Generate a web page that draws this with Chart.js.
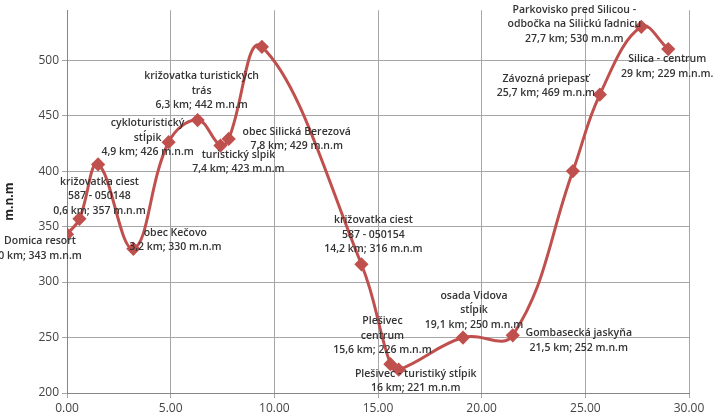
<!DOCTYPE html>
<html>
<head>
<meta charset="utf-8">
<script src="https://cdn.jsdelivr.net/npm/chart.js@4/dist/chart.umd.min.js"></script>
<style>
  html, body { margin: 0; padding: 0; background: #fff; }
  #wrap { width: 720px; height: 420px; }
</style>
</head>
<body>
<div id="wrap"><canvas id="profile"></canvas></div>
<script>
// Elevation profile - distance (km) vs altitude (m.n.m)
const distKm = [0, 0.6, 1.5, 3.2, 4.9, 6.3, 7.4, 7.8, 9.4, 14.2, 15.6, 16, 19.1, 21.5, 24.4, 25.7, 27.7, 29];
const altitude = [343, 357, 406, 330, 426, 446, 423, 429, 512, 316, 226, 221, 250, 252, 400, 469, 530, 510];
const pointLabels = [
  ['Domica resort', '0 km; 343 m.n.m'],
  ['križovatka ciest', '587 - 050148', '0,6 km; 357 m.n.m'],
  [],
  ['obec Kečovo', '3,2 km; 330 m.n.m'],
  ['cykloturistický', 'stĺpik', '4,9 km; 426 m.n.m'],
  ['križovatka turistických', 'trás', '6,3 km; 442 m.n.m'],
  ['turistický sĺpik', '7,4 km; 423 m.n.m'],
  ['obec Silická Berezová', '7,8 km; 429 m.n.m'],
  [],
  ['križovatka ciest', '587 - 050154', '14,2 km; 316 m.n.m'],
  ['Plešivec', 'centrum', '15,6 km; 226 m.n.m'],
  ['Plešivec - turistiký stĺpik', '16 km; 221 m.n.m'],
  ['osada Vidova', 'stĺpik', '19,1 km; 250 m.n.m'],
  ['Gombasecká jaskyňa', '21,5 km; 252 m.n.m'],
  [],
  ['Závozná priepasť', '25,7 km; 469 m.n.m'],
  ['Parkovisko pred Silicou -', 'odbočka na Silickú ľadnicu', '27,7 km; 530 m.n.m'],
  ['Silica - centrum', '29 km; 229 m.n.m.']
];
// pixel offset of first label line centre from its point
const labelOffsets = [
  [-27, 7], [20, -37], [0, 0], [42, -16], [-21, -19], [4, -44], [18, 9], [68, -7], [0, 0],
  [12, -44], [-8, -43], [17, 4], [11, -42], [66, -2], [0, 0], [-54, -16], [-67, -17], [-1, 10]
];

const labelPlugin = {
  id: 'pointLabels',
  afterDatasetsDraw(chart) {
    const ctx = chart.ctx;
    const meta = chart.getDatasetMeta(0);
    ctx.save();
    ctx.font = '600 10.5px "Open Sans", sans-serif';
    ctx.fillStyle = '#333';
    ctx.textAlign = 'center';
    ctx.textBaseline = 'middle';
    meta.data.forEach((pt, i) => {
      const lines = pointLabels[i];
      const [dx, dy] = labelOffsets[i];
      lines.forEach((txt, j) => ctx.fillText(txt, pt.x + dx, pt.y + dy + j * 14.5));
    });
    ctx.restore();
  }
};

new Chart(document.getElementById('profile'), {
  type: 'scatter',
  data: {
    datasets: [{
      data: distKm.map((d, i) => ({ x: d, y: altitude[i] })),
      showLine: true,
      borderColor: '#c0504d',
      borderWidth: 3,
      tension: 0.4,
      pointStyle: 'rectRot',
      pointRadius: 5,
      pointBackgroundColor: '#c0504d',
      pointBorderColor: '#c0504d'
    }]
  },
  plugins: [labelPlugin],
  options: {
    responsive: true,
    maintainAspectRatio: false,
    animation: false,
    layout: { padding: { top: 0, right: 31, left: 0, bottom: 0 } },
    plugins: { legend: { display: false }, tooltip: { enabled: false } },
    scales: {
      x: {
        type: 'linear',
        min: 0, max: 30,
        grid: { color: '#a6a6a6', tickLength: 5 },
        border: { color: '#868686' },
        ticks: {
          stepSize: 5,
          color: '#444',
          font: { family: '"Open Sans", sans-serif', size: 12 },
          callback: v => v.toFixed(2)
        },
        afterFit: s => { s.height = 27; }
      },
      y: {
        min: 200, max: 545,
        grid: { color: '#a6a6a6', tickLength: 5 },
        border: { color: '#868686' },
        afterBuildTicks: s => { s.ticks = s.ticks.filter(t => t.value % 50 === 0); },
        ticks: {
          stepSize: 50,
          color: '#444',
          font: { family: '"Open Sans", sans-serif', size: 12 }
        },
        title: {
          display: true,
          text: 'm.n.m',
          color: '#222',
          font: { family: '"Open Sans", sans-serif', size: 12, weight: 'bold' },
          padding: 2
        },
        afterFit: s => { s.width = 67; }
      }
    }
  }
});
</script>
</body>
</html>
